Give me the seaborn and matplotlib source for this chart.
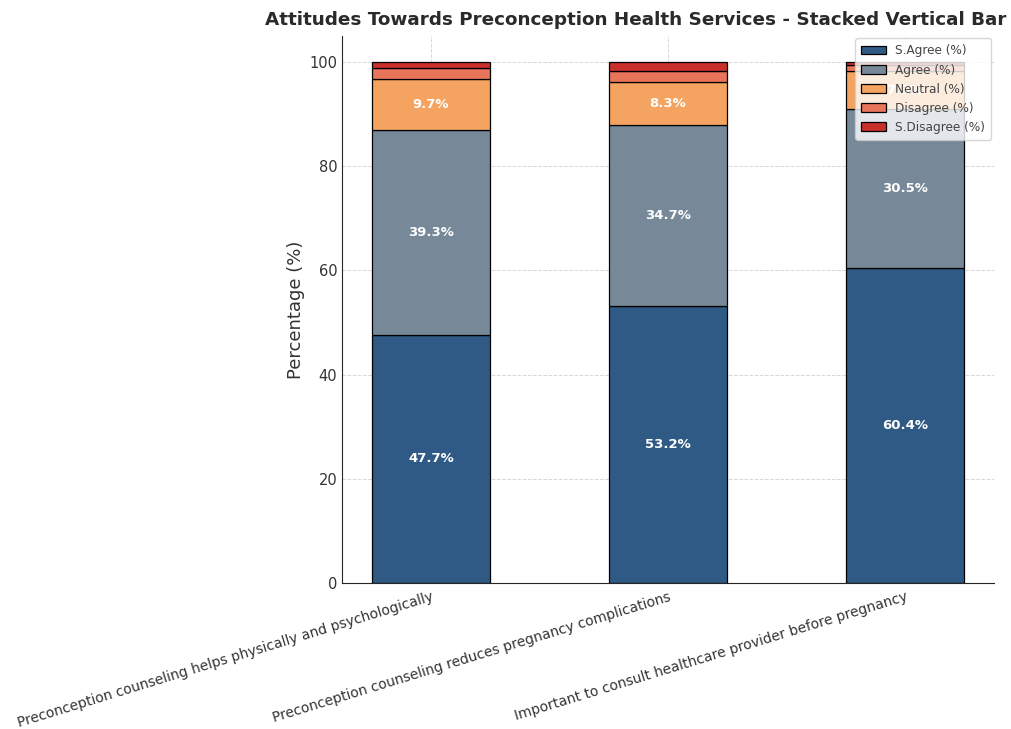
import matplotlib
matplotlib.use("Agg")
import matplotlib.pyplot as plt
import seaborn as sns
import numpy as np

# Data
statements = [
    "Preconception counseling helps physically and psychologically",
    "Preconception counseling reduces pregnancy complications",
    "Important to consult healthcare provider before pregnancy",
]
s_agree = [47.7, 53.2, 60.4]
agree = [39.3, 34.7, 30.5]
neutral = [9.7, 8.3, 7.3]
disagree = [2.1, 2.1, 1.3]
s_disagree = [1.2, 1.7, 0.5]

series_names = ["S.Agree (%)", "Agree (%)", "Neutral (%)", "Disagree (%)", "S.Disagree (%)"]
colors = ["#2f5a85", "#778899", "#f4a460", "#e8745a", "#c9302c"]

sns.set_style("ticks")
plt.rcParams["font.family"] = ["DejaVu Sans"]

fig = plt.figure(figsize=(10.12, 7.29), dpi=100)
ax = fig.add_axes([0.338, 0.2003, 0.644, 0.7503])

series = [s_agree, agree, neutral, disagree, s_disagree]
bottom = np.zeros(len(statements))
for name, vals, col in zip(series_names, series, colors):
    sns.barplot(x=statements, y=vals, bottom=bottom, color=col, label=name,
                width=0.5, edgecolor="black", linewidth=0.9, saturation=1, ax=ax)
    cont = ax.containers[-1]
    labels = [f"{v:.1f}%" if v > 5 else "" for v in vals]
    ax.bar_label(cont, labels=labels, label_type="center", color="white",
                 fontsize=9.5, fontweight="bold")
    bottom = bottom + np.array(vals)

ax.set_xlim(-0.375, 2.375)
ax.set_ylim(0, 105)
ax.set_yticks([0, 20, 40, 60, 80, 100])
ax.grid(True, linestyle="--", linewidth=0.7, color="#cccccc", alpha=0.8)
ax.set_axisbelow(True)
sns.despine(ax=ax)

ax.set_xlabel("")
ax.set_ylabel("Percentage (%)", fontsize=13, color="#333333", labelpad=3)
ax.tick_params(axis="y", labelsize=10.5, colors="#333333", length=0, pad=3.5)
ax.tick_params(axis="x", labelsize=10, colors="#333333", length=0, pad=5)
plt.setp(ax.get_xticklabels(), rotation=17, ha="right", rotation_mode="anchor")

leg = ax.legend(loc="upper right", fontsize=8.7, framealpha=0.8, borderpad=0.5,
                borderaxespad=0.2)
for t in leg.get_texts():
    t.set_color("#444444")

fig.text(0.628, 0.972, "Attitudes Towards Preconception Health Services - Stacked Vertical Bar",
         ha="center", va="center", fontsize=13.2, fontweight="bold", color="#2a2a2a")

fig.savefig("out.png", dpi=100)
